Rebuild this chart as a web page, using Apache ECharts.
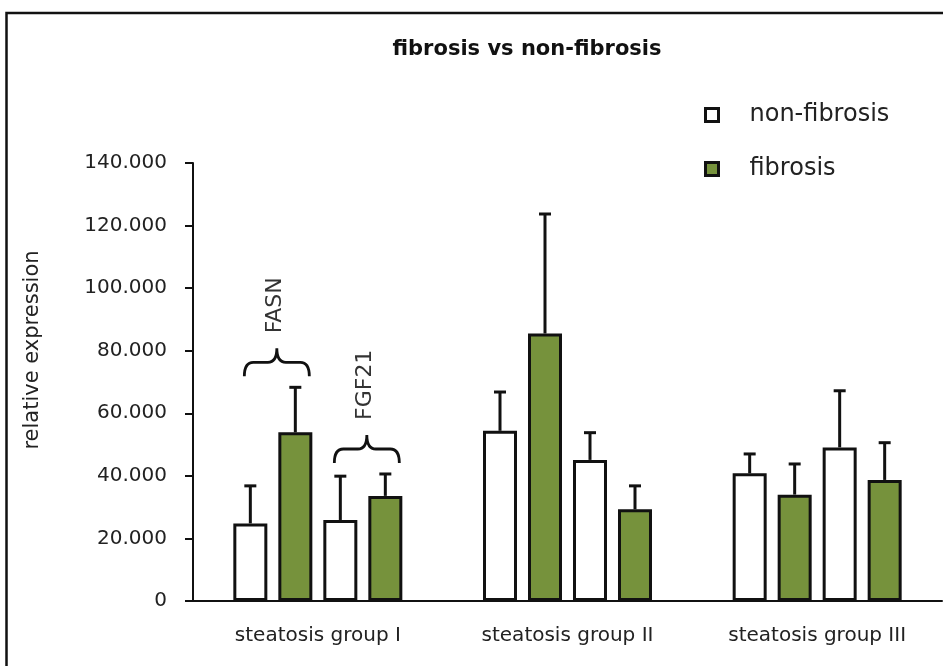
<!DOCTYPE html>
<html>
<head>
<meta charset="utf-8">
<script src="https://cdn.jsdelivr.net/npm/echarts@6/dist/echarts.min.js"></script>
<style>
  html, body { margin: 0; padding: 0; background: #fff; }
  #chart { width: 943px; height: 666px; }
</style>
</head>
<body>
<div id="chart"></div>
<script>
// Groups on the x axis
const categories = ['steatosis group I', 'steatosis group II', 'steatosis group III'];
// Genes compared inside each group (annotated in the first group)
const genes = ['FASN', 'FGF21'];
const annotatedGroup = 0;

// Mean relative expression
const nonFibrosisFASN  = [24.8, 54.4, 40.8];
const fibrosisFASN     = [53.9, 85.5, 34.0];
const nonFibrosisFGF21 = [25.9, 45.1, 49.1];
const fibrosisFGF21    = [33.6, 29.3, 38.7];

// Standard deviations (upper error bars)
const sdNonFibrosisFASN  = [12.0, 12.4, 6.2];
const sdFibrosisFASN     = [14.4, 38.2, 9.8];
const sdNonFibrosisFGF21 = [14.0, 8.7, 18.1];
const sdFibrosisFGF21    = [7.0, 7.5, 11.9];

// Value axis
const yMin = 0, yMax = 140, yStep = 20;

const FONT = '"DejaVu Sans", "Noto Sans", sans-serif';
const INK = '#111';
const TEXT = '#222';
const GREEN = '#76923c';

const BAR_W = 34;
const SLOT_STEP = 45;                  // centre-to-centre distance between neighbouring bars
const BAR_GAP = ((SLOT_STEP - BAR_W) / BAR_W * 100).toFixed(2) + '%';
const CAP = 6;
const STROKE = 3;

// Four bars per group: FASN pair, then FGF21 pair
const barSets = [
  { name: 'non-fibrosis', gene: 'FASN',  mean: nonFibrosisFASN,  sd: sdNonFibrosisFASN,  fill: '#ffffff' },
  { name: 'fibrosis',     gene: 'FASN',  mean: fibrosisFASN,     sd: sdFibrosisFASN,     fill: GREEN },
  { name: 'non-fibrosis', gene: 'FGF21', mean: nonFibrosisFGF21, sd: sdNonFibrosisFGF21, fill: '#ffffff' },
  { name: 'fibrosis',     gene: 'FGF21', mean: fibrosisFGF21,    sd: sdFibrosisFGF21,    fill: GREEN }
];

const barSeries = barSets.map(s => ({
  type: 'bar',
  name: s.name,
  data: s.mean,
  barWidth: BAR_W,
  barGap: BAR_GAP,
  itemStyle: { color: s.fill, borderColor: INK, borderWidth: STROKE },
  emphasis: { disabled: true },
  z: 2
}));

// Error bar data: [group index, mean, sd, slot]
const errorData = [];
barSets.forEach((s, slot) => {
  s.mean.forEach((m, i) => errorData.push([i, m, s.sd[i], slot]));
});

const errorSeries = {
  type: 'custom',
  name: 'sd',
  data: errorData,
  encode: { x: 0, y: 1 },
  z: 3,
  silent: true,
  renderItem: function (params, api) {
    const cat = api.value(0), mean = api.value(1), sd = api.value(2), slot = api.value(3);
    const base = api.coord([cat, mean]);
    const top = api.coord([cat, mean + sd]);
    const x = base[0] + (slot - 1.5) * SLOT_STEP;
    const st = { stroke: INK, lineWidth: STROKE };
    return {
      type: 'group',
      children: [
        { type: 'line', shape: { x1: x, y1: base[1], x2: x, y2: top[1] }, style: st },
        { type: 'line', shape: { x1: x - CAP, y1: top[1], x2: x + CAP, y2: top[1] }, style: st }
      ]
    };
  }
};

// Brace + gene name above each pair of bars in the annotated group
const braceData = genes.map((g, gi) => {
  const pair = barSets.filter(s => s.gene === g);
  const topVal = Math.max(...pair.map(s => s.mean[annotatedGroup] + s.sd[annotatedGroup]));
  return [annotatedGroup, topVal, gi];
});

const braceSeries = {
  type: 'custom',
  name: 'genes',
  data: braceData,
  encode: { x: 0, y: 1 },
  z: 4,
  silent: true,
  renderItem: function (params, api) {
    const cat = api.value(0), topVal = api.value(1), gi = api.value(2);
    const p = api.coord([cat, topVal]);
    const xc = p[0] + ((gi * 2 + 0.5) - 1.5) * SLOT_STEP + 4;
    const w = 32.5, r = 9;
    const yEnd = p[1] - 11;
    const yMid = yEnd - 14;
    const yTip = yEnd - 28;
    const d = [
      'M', xc - w, yEnd,
      'Q', xc - w, yMid, xc - w + r, yMid,
      'L', xc - r, yMid,
      'Q', xc, yMid, xc, yTip,
      'Q', xc, yMid, xc + r, yMid,
      'L', xc + w - r, yMid,
      'Q', xc + w, yMid, xc + w, yEnd
    ].join(' ');
    return {
      type: 'group',
      children: [
        { type: 'path', shape: { pathData: d }, style: { stroke: INK, lineWidth: 2.8, fill: null } },
        {
          type: 'text', x: xc - 2, y: yTip - 15, rotation: Math.PI / 2,
          style: { text: genes[gi], fontSize: 22, fontFamily: FONT, fill: '#333', align: 'left', verticalAlign: 'middle' }
        }
      ]
    };
  }
};

const chart = echarts.init(document.getElementById('chart'), null, { renderer: 'canvas' });
chart.setOption({
  animation: false,
  backgroundColor: '#fff',
  graphic: [{
    type: 'rect', silent: true, z: -1,
    shape: { x: 6.5, y: 13, width: 1400, height: 1200 },
    style: { fill: 'none', stroke: INK, lineWidth: 2.5 }
  }],
  title: {
    text: 'fibrosis vs non-fibrosis',
    left: 522, top: 34, textAlign: 'center',
    textStyle: { fontFamily: FONT, fontSize: 21, fontWeight: 'bold', color: INK }
  },
  legend: {
    data: ['non-fibrosis', 'fibrosis'],
    orient: 'vertical',
    left: 699, top: 98,
    itemWidth: 13, itemHeight: 13, itemGap: 30,
    icon: 'rect',
    selectedMode: false,
    itemStyle: { borderColor: INK, borderWidth: 3 },
    textStyle: { fontFamily: FONT, fontSize: 24, color: TEXT, lineHeight: 24, padding: [0, 0, 0, 26] }
  },
  grid: { left: 193, right: 1, top: 163, bottom: 65 },
  xAxis: {
    type: 'category',
    data: categories,
    axisLine: { lineStyle: { color: INK, width: 2 } },
    axisTick: { length: 8, lineStyle: { color: INK, width: 2 } },
    axisLabel: { fontFamily: FONT, fontSize: 20, color: TEXT, margin: 25 }
  },
  yAxis: {
    type: 'value',
    min: yMin, max: yMax, interval: yStep,
    name: 'relative expression',
    nameLocation: 'middle',
    nameRotate: 90,
    nameGap: 150,
    nameTextStyle: { fontFamily: FONT, fontSize: 21, color: TEXT, padding: [0, 0, 0, 64] },
    axisLine: { show: true, lineStyle: { color: INK, width: 2 } },
    axisTick: { show: true, length: 8, lineStyle: { color: INK, width: 2 } },
    splitLine: { show: false },
    axisLabel: {
      fontFamily: FONT, fontSize: 20, color: TEXT, margin: 26,
      formatter: v => (v === 0 ? '0' : v.toFixed(3))
    }
  },
  series: [...barSeries, errorSeries, braceSeries]
});
</script>
</body>
</html>
